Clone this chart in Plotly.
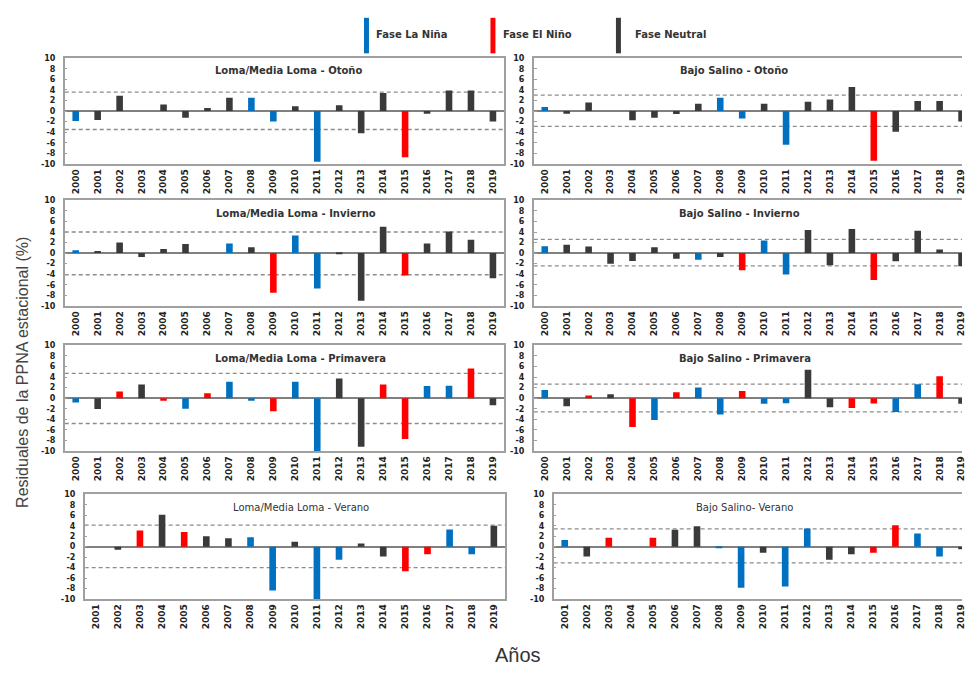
import plotly.graph_objects as go

W, H = 966, 673

years_full = [str(y) for y in range(2000, 2020)]
years_summer = [str(y) for y in range(2001, 2020)]

# Residual values (%) per panel
lml_otono = [-1.9, -1.7, 2.9, 0.0, 1.25, -1.25, 0.6, 2.5, 2.5, -2.0, 0.9, -9.6, 1.1, -4.2, 3.4, -8.75, -0.5, 3.9, 3.9, -2.0]
bs_otono = [0.75, -0.5, 1.6, 0.0, -1.75, -1.25, -0.55, 1.4, 2.5, -1.4, 1.4, -6.4, 1.75, 2.2, 4.55, -9.4, -3.9, 1.9, 1.9, -2.0]
lml_invierno = [0.55, 0.4, 2.0, -0.75, 0.8, 1.75, 0.0, 1.8, 1.1, -7.5, 3.35, -6.7, -0.1, -9.0, 5.0, -4.25, 1.8, 4.1, 2.55, -4.75]
bs_invierno = [1.3, 1.6, 1.25, -2.0, -1.5, 1.1, -1.05, -1.25, -0.75, -3.25, 2.4, -4.05, 4.4, -2.3, 4.55, -5.1, -1.55, 4.25, 0.7, -2.5]
lml_primavera = [-0.8, -2.05, 1.25, 2.6, -0.5, -2.0, 0.95, 3.1, -0.5, -2.5, 3.1, -10.0, 3.7, -9.2, 2.6, -7.75, 2.3, 2.35, 5.6, -1.35]
bs_primavera = [1.55, -1.55, 0.5, 0.75, -5.45, -4.15, 1.1, 2.0, -3.1, 1.35, -1.05, -0.95, 5.4, -1.7, -1.85, -1.0, -2.6, 2.65, 4.15, -1.05]
lml_verano = [0.0, -0.6, 3.1, 6.1, 2.8, 2.0, 1.6, 1.8, -8.4, 0.95, -10.0, -2.5, 0.6, -1.9, -4.7, -1.45, 3.3, -1.45, 4.0]
bs_verano = [1.25, -1.9, 1.7, 0.0, 1.7, 3.25, 3.9, -0.3, -7.85, -1.15, -7.6, 3.45, -2.5, -1.45, -1.15, 4.1, 2.5, -1.9, -0.5]

# ENSO phase per year: L = La Niña, E = El Niño, N = Neutral
ph_otono = list("LNNNNNNNLLNLNNNENNNN")
ph_invierno = list("LNNNNNNLNELLNNNENNNN")
ph_primavera = list("LNENELELLELLNNEELLEN")
ph_verano_lml = list("NNENENNLLNLLNNEELLN")
ph_verano_bs = list("LNENENNLLNLLNNEELLN")

# Threshold (dashed) lines per panel: (upper, lower)
thr_lml_otono = (3.6, -3.5)
thr_bs_otono = (3.0, -2.9)
thr_lml_invierno = (4.0, -4.1)
thr_bs_invierno = (2.6, -2.4)
thr_lml_primavera = (4.7, -4.8)
thr_bs_primavera = (2.65, -2.6)
thr_lml_verano = (4.1, -4.0)
thr_bs_verano = (3.4, -3.1)

titles = [
    "Loma/Media Loma - Otoño", "Bajo Salino - Otoño",
    "Loma/Media Loma - Invierno", "Bajo Salino - Invierno",
    "Loma/Media Loma - Primavera", "Bajo Salino - Primavera",
    "Loma/Media Loma - Verano", "Bajo Salino- Verano",
]
yticks = [10, 8, 6, 4, 2, 0, -2, -4, -6, -8, -10]
legend_labels = ["Fase La Niña", "Fase El Niño", "Fase Neutral"]

COL = {"L": "#0070C0", "E": "#FF0000", "N": "#3A3A3A"}
FONT = "DejaVu Sans"

def px_x(p):
    return p / W

def px_y(p):
    return 1 - p / H

rows_y = [(55, 162), (199, 306), (346, 453), (497, 603)]
panels = [
    (years_full, lml_otono, ph_otono, thr_lml_otono, (65, 506), 19.5, True),
    (years_full, bs_otono, ph_otono, thr_bs_otono, (536, 966), 19.02, False),
    (years_full, lml_invierno, ph_invierno, thr_lml_invierno, (65, 506), 19.5, True),
    (years_full, bs_invierno, ph_invierno, thr_bs_invierno, (536, 966), 19.02, False),
    (years_full, lml_primavera, ph_primavera, thr_lml_primavera, (65, 506), 19.5, True),
    (years_full, bs_primavera, ph_primavera, thr_bs_primavera, (536, 966), 19.02, False),
    (years_summer, lml_verano, ph_verano_lml, thr_lml_verano, (85, 507), 18.5, True),
    (years_summer, bs_verano, ph_verano_bs, thr_bs_verano, (556, 966), 18.02, False),
]

fig = go.Figure()
shapes = []
annotations = []

title_cx = [290, 737, 297, 743, 302, 748, 302, 748]
title_cy = [67, 67, 212, 212, 359, 359, 510, 510]

for i, (xs, vals, phs, thr, xd, rend, left) in enumerate(panels):
    k = i + 1
    xa = "x" if k == 1 else f"x{k}"
    ya = "y" if k == 1 else f"y{k}"
    r = i // 2
    y0, y1 = rows_y[r]
    fig.add_trace(go.Bar(
        x=xs, y=vals,
        marker=dict(color=[COL[p] for p in phs], line=dict(width=0)),
        width=0.3,
        xaxis=xa, yaxis=ya, showlegend=False,
        hovertemplate="%{x}: %{y}<extra></extra>",
    ))
    xkey = "xaxis" if k == 1 else f"xaxis{k}"
    ykey = "yaxis" if k == 1 else f"yaxis{k}"
    fig.layout[xkey] = dict(
        domain=[px_x(xd[0]), px_x(xd[1])],
        anchor=ya, type="category", range=[-0.5, rend],
        showline=True, linecolor="#a0a0a0", linewidth=1.5, mirror=True,
        ticks="", tickangle=-90, showgrid=False, zeroline=False,
        tickfont=dict(family=FONT, size=9, color="#222222", weight="bold"),
        fixedrange=True,
    )
    fig.layout[ykey] = dict(
        domain=[px_y(y1), px_y(y0)],
        anchor=xa, range=[-10, 10],
        tickvals=yticks, ticktext=[str(t) for t in yticks],
        showline=True, linecolor="#a0a0a0", linewidth=1.5, mirror=left,
        ticks="inside", ticklen=3, tickcolor="#a0a0a0",
        showgrid=False, zeroline=True, zerolinecolor="#808080", zerolinewidth=1.5,
        tickfont=dict(family=FONT, size=8, color="#222222", weight="bold"),
        ticklabelstandoff=6,
        fixedrange=True,
    )
    for tv in thr:
        shapes.append(dict(
            type="line", xref=f"{xa} domain", yref=ya,
            x0=0, x1=1, y0=tv, y1=tv,
            line=dict(color="#8c8c8c", width=1.3, dash="4px,3px"), layer="below",
        ))
    annotations.append(dict(
        text=titles[i], xref="paper", yref="paper",
        x=px_x(title_cx[i]), y=px_y(title_cy[i]), xanchor="center", yanchor="middle",
        showarrow=False,
        font=dict(family=FONT, size=10, color="#333333",
                  weight="bold" if r < 3 else "normal"),
    ))

# legend (vertical colour bars + text)
leg_bar_x = [368, 495, 621]
leg_txt_x = [376, 503, 636]
for lab, c, bx, tx in zip(legend_labels, ["L", "E", "N"], leg_bar_x, leg_txt_x):
    shapes.append(dict(type="rect", xref="paper", yref="paper",
                       x0=px_x(bx - 2.5), x1=px_x(bx + 2.5), y0=px_y(50), y1=px_y(14),
                       fillcolor=COL[c], line=dict(width=0)))
    annotations.append(dict(text=lab, xref="paper", yref="paper",
                            x=px_x(tx), y=px_y(31), xanchor="left", yanchor="middle",
                            showarrow=False,
                            font=dict(family=FONT, size=10, color="#333333", weight="bold")))

annotations.append(dict(text="Residuales de la PPNA estacional (%)", xref="paper", yref="paper",
                        x=px_x(22), y=px_y(373), xanchor="center", yanchor="middle",
                        textangle=-90, showarrow=False,
                        font=dict(family="Liberation Sans Narrow, Liberation Sans", size=16, color="#444444")))
annotations.append(dict(text="Años", xref="paper", yref="paper",
                        x=px_x(520), y=px_y(660), xanchor="center", yanchor="middle",
                        showarrow=False,
                        font=dict(family="Liberation Sans", size=20, color="#333333")))

fig.update_layout(
    width=W, height=H,
    margin=dict(l=0, r=0, t=0, b=0),
    paper_bgcolor="white", plot_bgcolor="white",
    shapes=shapes, annotations=annotations,
)

fig.write_html("out.html")
